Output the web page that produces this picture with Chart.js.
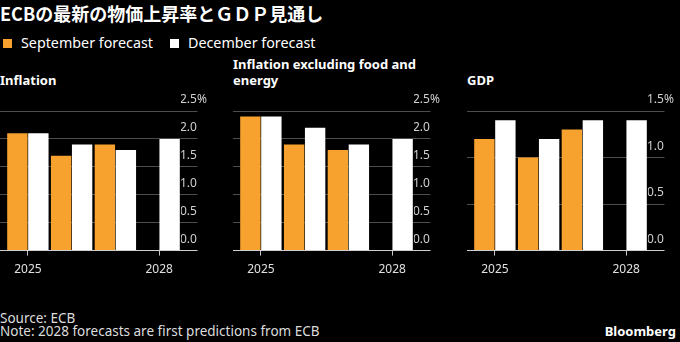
<!DOCTYPE html>
<html>
<head>
<meta charset="utf-8">
<script src="https://cdn.jsdelivr.net/npm/chart.js@4.4.1/dist/chart.umd.min.js"></script>
<style>
  body { margin: 0; background: #000; width: 680px; height: 342px; overflow: hidden; position: relative; font-family: 'Noto Sans', sans-serif; color: #fff; }
  .abs { position: absolute; white-space: nowrap; }
  #titulo { left: 0; top: 0; font-family: 'Noto Sans CJK JP', sans-serif; font-weight: bold; font-size: 18px; line-height: 26px; }
  .leyenda { top: 33px; font-size: 14.3px; line-height: 20px; }
  .cuadro { display: inline-block; width: 9px; height: 9px; margin-right: 9px; vertical-align: 0px; }
  .panel-titulo { font-weight: bold; font-size: 13px; line-height: 16px; }
  .pie { left: 0; font-size: 13.5px; line-height: 16px; color: #ddd; }
  #marca { right: 4px; top: 323px; font-weight: bold; font-size: 13px; line-height: 16px; }
  canvas { position: absolute; top: 88px; }
</style>
</head>
<body>
<div class="abs" id="titulo">ECBの最新の物価上昇率とＧＤＰ見通し</div>
<div class="abs leyenda" style="left:3px"><span class="cuadro" style="background:#F7A12E"></span>September forecast</div>
<div class="abs leyenda" style="left:170px"><span class="cuadro" style="background:#fff"></span>December forecast</div>

<div class="abs panel-titulo" style="left:0; top:72px">Inflation</div>
<div class="abs panel-titulo" style="left:233px; top:56px">Inflation excluding food and<br>energy</div>
<div class="abs panel-titulo" style="left:467px; top:72px">GDP</div>

<canvas id="inflacion" width="211" height="196" style="left:0"></canvas>
<canvas id="subyacente" width="211" height="196" style="left:233px"></canvas>
<canvas id="pib" width="211" height="196" style="left:467px"></canvas>

<div class="abs pie" style="top:310px">Source: ECB</div>
<div class="abs pie" style="top:323px">Note: 2028 forecasts are first predictions from ECB</div>
<div class="abs" id="marca">Bloomberg</div>

<script>
const years = ['2025', '2026', '2027', '2028'];
const labeledYears = ['2025', '2028'];

// headline inflation, %
const inflationSep = [2.1, 1.7, 1.9, null];
const inflationDec = [2.1, 1.9, 1.8, 2.0];

// inflation excluding food and energy, %
const coreSep = [2.4, 1.9, 1.8, null];
const coreDec = [2.4, 2.2, 1.9, 2.0];

// GDP growth, %
const gdpSep = [1.2, 1.0, 1.3, null];
const gdpDec = [1.4, 1.2, 1.4, 1.4];

const inflationMax = 2.5;
const gdpMax = 1.5;
const tickStep = 0.5;

const NARANJA = '#F7A12E';
const BLANCO = '#FFFFFF';

Chart.defaults.font.family = "'Noto Sans', sans-serif";
Chart.defaults.font.size = 12;

function colorGrilla(ctx) {
    return ctx.tick && ctx.tick.value === 0 ? '#d0d0d0' : '#4d4d4d';
}

function crearPanel(id, sep, dec, max) {
    new Chart(document.getElementById(id), {
        type: 'bar',
        data: {
            labels: years,
            datasets: [
                { label: 'September forecast', data: sep, backgroundColor: NARANJA, yAxisID: 'y',
                  categoryPercentage: 0.96, barPercentage: 0.97 },
                { label: 'December forecast', data: dec, backgroundColor: BLANCO, yAxisID: 'y',
                  categoryPercentage: 0.96, barPercentage: 0.97 }
            ]
        },
        options: {
            responsive: false,
            animation: false,
            devicePixelRatio: 1,
            layout: { padding: { top: 23, bottom: 0, left: 0, right: 0 } },
            plugins: {
                legend: { display: false },
                tooltip: { enabled: false }
            },
            scales: {
                x: {
                    border: { display: false },
                    grid: {
                        offset: false,
                        drawOnChartArea: false,
                        tickLength: 5,
                        color: ctx => labeledYears.includes(years[ctx.index]) ? '#c8c8c8' : 'rgba(0,0,0,0)'
                    },
                    ticks: {
                        color: '#e0e0e0',
                        padding: 7,
                        maxRotation: 0,
                        autoSkip: false,
                        callback: (v, i) => labeledYears.includes(years[i]) ? years[i] : ''
                    }
                },
                // left stub so the grid lines start a few px before the first bar
                yl: {
                    type: 'linear',
                    position: 'left',
                    min: 0,
                    max: max,
                    border: { display: false },
                    ticks: { display: false, stepSize: tickStep },
                    grid: { drawOnChartArea: false, tickLength: 6, color: colorGrilla },
                    afterFit: s => { s.width = 6; }
                },
                y: {
                    type: 'linear',
                    position: 'right',
                    min: 0,
                    max: max,
                    border: { display: false },
                    grid: { tickLength: 16.5, color: colorGrilla },
                    ticks: {
                        stepSize: tickStep,
                        padding: -17.5,
                        labelOffset: -11,
                        color: '#d0d0d0',
                        callback: v => v === max ? v.toFixed(1) + '%' : v.toFixed(1)
                    },
                    afterFit: s => { s.width = 30; }
                }
            }
        }
    });
}

crearPanel('inflacion', inflationSep, inflationDec, inflationMax);
crearPanel('subyacente', coreSep, coreDec, inflationMax);
crearPanel('pib', gdpSep, gdpDec, gdpMax);
</script>
</body>
</html>
